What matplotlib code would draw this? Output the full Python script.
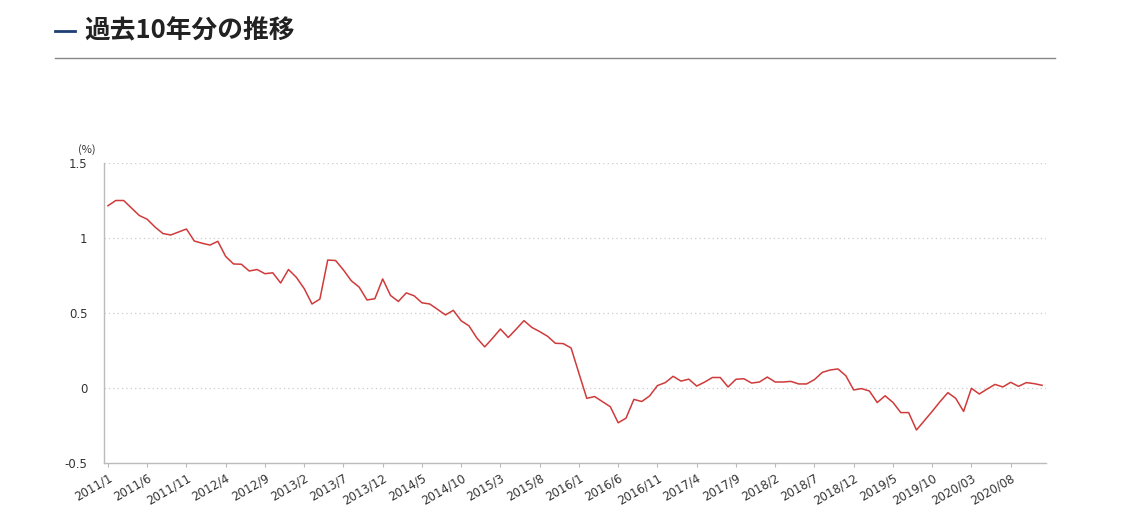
import numpy as np
import matplotlib.pyplot as plt
from matplotlib.lines import Line2D

# monthly values 2011/1 .. 2020/12 (%)
values = [
    1.215, 1.25, 1.25, 1.20, 1.15, 1.125, 1.073, 1.03, 1.02, 1.04,
    1.06, 0.98, 0.965, 0.953, 0.978, 0.877, 0.827, 0.825, 0.78, 0.79,
    0.762, 0.768, 0.70, 0.79, 0.738, 0.663, 0.56, 0.593, 0.853, 0.85,
    0.787, 0.715, 0.673, 0.587, 0.595, 0.727, 0.617, 0.577, 0.634, 0.615,
    0.568, 0.56, 0.524, 0.487, 0.518, 0.448, 0.414, 0.333, 0.274, 0.332,
    0.393, 0.337, 0.392, 0.449, 0.404, 0.376, 0.345, 0.298, 0.296, 0.267,
    0.098, -0.069, -0.057, -0.091, -0.125, -0.232, -0.201, -0.076, -0.09, -0.053,
    0.016, 0.036, 0.078, 0.046, 0.059, 0.013, 0.039, 0.07, 0.07, 0.007,
    0.058, 0.062, 0.033, 0.04, 0.073, 0.04, 0.04, 0.044, 0.027, 0.027,
    0.056, 0.104, 0.12, 0.127, 0.082, -0.013, -0.004, -0.02, -0.097, -0.052,
    -0.096, -0.164, -0.164, -0.28, -0.218, -0.156, -0.091, -0.031, -0.069, -0.156,
    -0.002, -0.04, -0.007, 0.024, 0.007, 0.038, 0.011, 0.036, 0.029, 0.018,
]
tick_labels = [
    "2011/1", "2011/6", "2011/11", "2012/4", "2012/9", "2013/2", "2013/7",
    "2013/12", "2014/5", "2014/10", "2015/3", "2015/8", "2016/1", "2016/6",
    "2016/11", "2017/4", "2017/9", "2018/2", "2018/7", "2018/12", "2019/5",
    "2019/10", "2020/03", "2020/08",
]
y_ticks = [-0.5, 0, 0.5, 1, 1.5]
y_tick_labels = ["-0.5", "0", "0.5", "1", "1.5"]
title = "過去10年分の推移"

plt.rcParams['font.family'] = ['Noto Sans CJK JP', 'DejaVu Sans']

W, H = 1124, 521
fig = plt.figure(figsize=(W / 100, H / 100), dpi=100)

# header
fig.add_artist(Line2D([55 / W, 75 / W], [1 - 31 / H, 1 - 31 / H], color='#1f3f73', lw=2))
fig.text(84 / W, 1 - 31 / H, title, fontsize=18.5, fontweight='bold', color='#222222',
         va='center', ha='left')
fig.add_artist(Line2D([55 / W, 1055 / W], [1 - 58 / H, 1 - 58 / H], color='#888888', lw=1))

ax = fig.add_axes([104 / W, 1 - 463 / H, (1046 - 104) / W, (463 - 163) / H])
x = np.arange(len(values))
ax.plot(x, values, color='#d03a3a', lw=1.1)

ax.set_xlim(-0.5, len(values) - 0.5)
ax.set_ylim(-0.5, 1.5)
ax.set_yticks(y_ticks)
ax.set_yticklabels(y_tick_labels)
ax.set_xticks(np.arange(0, len(values), 5))
ax.set_xticklabels(tick_labels, rotation=30, ha='right', rotation_mode='anchor')

for v in [0, 0.5, 1, 1.5]:
    ax.axhline(v, color='#cccccc', lw=0.9, ls=(0, (1, 2.5)), zorder=0)

for s in ['top', 'right']:
    ax.spines[s].set_visible(False)
for s in ['left', 'bottom']:
    ax.spines[s].set_color('#bbbbbb')
    ax.spines[s].set_linewidth(1)

ax.tick_params(axis='y', length=0, pad=12, labelsize=8.5, labelcolor='#333333')
ax.tick_params(axis='x', length=3, width=0.8, color='#bbbbbb', direction='out',
               pad=3, labelsize=8.5, labelcolor='#333333')
for lbl in ax.get_xticklabels() + ax.get_yticklabels():
    lbl.set_family(['Verdana', 'DejaVu Sans'])

fig.text(87 / W, 1 - 150 / H, "(%)", fontsize=8, color='#333333', ha='center', va='center')

fig.savefig('out.png', dpi=100)
